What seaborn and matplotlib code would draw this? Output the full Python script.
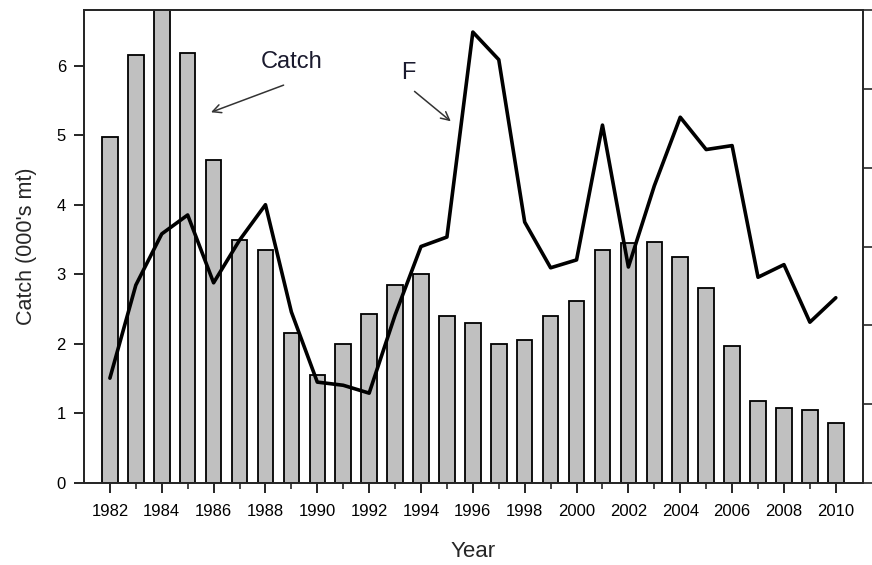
import numpy as np
import pandas as pd
import matplotlib.pyplot as plt
import seaborn as sns

# DATA

years = list(range(1982, 2011))

catch = [4.97, 6.15, 6.8, 6.18, 4.65, 3.5, 3.35, 2.15, 1.55, 2.0,
         2.43, 2.85, 3.0, 2.4, 2.3, 2.0, 2.05, 2.4, 2.62, 3.35,
         3.45, 3.47, 3.25, 2.8, 1.97, 1.18, 1.08, 1.05, 0.87]

fishing_f = [0.133, 0.251, 0.316, 0.340, 0.254, 0.308, 0.353, 0.217, 0.128, 0.124,
             0.114, 0.213, 0.300, 0.312, 0.572, 0.537, 0.331, 0.273, 0.283, 0.454,
             0.274, 0.377, 0.464, 0.423, 0.428, 0.261, 0.277, 0.204, 0.235]

year_labels = [str(y) for y in range(1982, 2011, 2)]

df = pd.DataFrame({'Year': years, 'Catch': catch, 'F': fishing_f})

# PLOT

sns.set_style("ticks")
plt.rcParams['font.family'] = ['Liberation Sans', 'DejaVu Sans']

fig = plt.figure(figsize=(8.72, 5.65), dpi=100)
ax = fig.add_axes([0.0963, 0.1451, 0.8934, 0.8372])

sns.barplot(
    x='Year', y='Catch', data=df,
    native_scale=True, width=0.6,
    color='#c0c0c0', edgecolor='black', linewidth=1.3,
    saturation=1, ax=ax
)

ax.set_xlim(1981, 2011.05)
ax.set_ylim(0, 6.8)
ax.set_yticks(range(0, 7))
ax.set_xticks(range(1982, 2011, 2))
ax.set_xticklabels(year_labels)
ax.set_xticks(range(1983, 2011, 2), minor=True)
ax.tick_params(axis='both', which='major', labelsize=12, length=7,
               width=1.2, direction='out', colors='black')
ax.tick_params(axis='x', which='minor', length=4, width=1.2)
ax.tick_params(axis='x', pad=8)
ax.tick_params(axis='y', pad=6)
ax.set_xlabel("Year", fontsize=16, labelpad=16)
ax.set_ylabel("Catch (000's mt)", fontsize=15.5, labelpad=14)
for s in ax.spines.values():
    s.set_linewidth(1.3)

ax2 = ax.twinx()
sns.lineplot(x='Year', y='F', data=df, color='black', linewidth=2.6, ax=ax2)
ax2.set_ylim(0, 0.6)
ax2.set_yticks(np.arange(0, 0.61, 0.1))
ax2.set_yticklabels([])
ax2.set_ylabel("")
ax2.tick_params(axis='y', length=9, width=1.2, direction='out')
for s in ax2.spines.values():
    s.set_linewidth(1.3)

# annotations
ax.text(1989.0, 6.05, "Catch", fontsize=17, ha='center', va='center', color='#1a1a2e')
ax.annotate("", xy=(1985.9, 5.33), xytext=(1988.7, 5.72),
            arrowprops=dict(arrowstyle='->,head_length=0.6,head_width=0.3',
                            color='#333333', lw=1.1, shrinkA=0, shrinkB=0))
ax.text(1993.5, 5.9, "F", fontsize=17, ha='center', va='center', color='#1a1a2e')
ax.annotate("", xy=(1995.15, 5.2), xytext=(1993.75, 5.63),
            arrowprops=dict(arrowstyle='->,head_length=0.6,head_width=0.3',
                            color='#333333', lw=1.1, shrinkA=0, shrinkB=0))

plt.savefig("out.png", dpi=100)
